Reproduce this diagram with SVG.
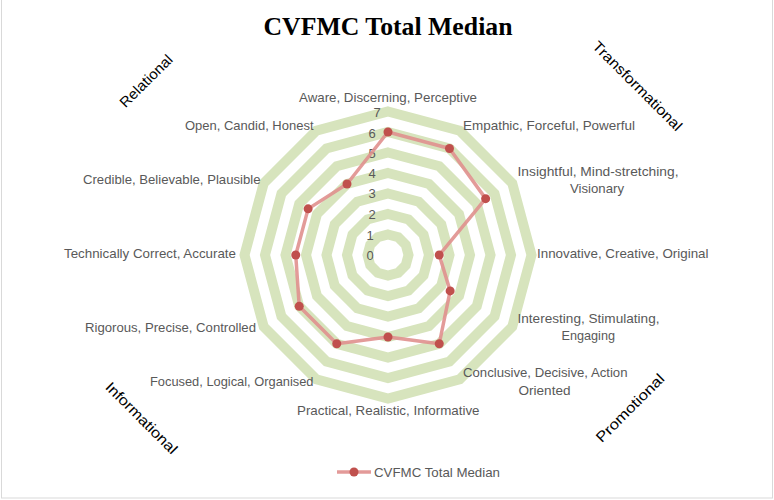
<svg xmlns="http://www.w3.org/2000/svg" width="774" height="500" viewBox="0 0 774 500">
<style>
.ring{fill:none;stroke:#D7E4BD;stroke-width:10;stroke-linejoin:miter}
.lbl{font-family:"Liberation Sans",Arial,sans-serif;font-size:12.8px;fill:#595959}
.tick{font-family:"Liberation Sans",Arial,sans-serif;font-size:13px;fill:#595959;text-anchor:middle}
.cat{font-family:"Liberation Sans",Arial,sans-serif;font-size:14.5px;fill:#000;text-anchor:middle}
.series{fill:none;stroke:#E0908E;stroke-width:3.5;stroke-linejoin:round;opacity:0.9}
.pt{fill:#C0504D}
</style>
<rect x="1.5" y="-2" width="771" height="500" fill="#FFFFFF" stroke="#D9D9D9" stroke-width="1"/>
<text x="388" y="35" font-family="'Liberation Serif','Times New Roman',serif" font-size="25" font-weight="bold" text-anchor="middle" textLength="249" lengthAdjust="spacingAndGlyphs" fill="#000">CVFMC Total Median</text>
<g id="grid">
<polygon class="ring" points="388,234.5 398.25,237.25 405.75,244.75 408.5,255 405.75,265.25 398.25,272.75 388,275.5 377.75,272.75 370.25,265.25 367.5,255 370.25,244.75 377.75,237.25"/>
<polygon class="ring" points="388,214 408.5,219.49 423.51,234.5 429,255 423.51,275.5 408.5,290.51 388,296 367.5,290.51 352.49,275.5 347,255 352.49,234.5 367.5,219.49"/>
<polygon class="ring" points="388,193.5 418.75,201.74 441.26,224.25 449.5,255 441.26,285.75 418.75,308.26 388,316.5 357.25,308.26 334.74,285.75 326.5,255 334.74,224.25 357.25,201.74"/>
<polygon class="ring" points="388,173 429,183.99 459.01,214 470,255 459.01,296 429,326.01 388,337 347,326.01 316.99,296 306,255 316.99,214 347,183.99"/>
<polygon class="ring" points="388,152.5 439.25,166.23 476.77,203.75 490.5,255 476.77,306.25 439.25,343.77 388,357.5 336.75,343.77 299.23,306.25 285.5,255 299.23,203.75 336.75,166.23"/>
<polygon class="ring" points="388,132 449.5,148.48 494.52,193.5 511,255 494.52,316.5 449.5,361.52 388,378 326.5,361.52 281.48,316.5 265,255 281.48,193.5 326.5,148.48"/>
<polygon class="ring" points="388,111.5 459.75,130.73 512.27,183.25 531.5,255 512.27,326.75 459.75,379.27 388,398.5 316.25,379.27 263.73,326.75 244.5,255 263.73,183.25 316.25,130.73"/>
</g>
<g id="ticks">
<text class="tick" x="370" y="259.5">0</text>
<text class="tick" x="370" y="239.5">1</text>
<text class="tick" x="372" y="219">2</text>
<text class="tick" x="372" y="197.5">3</text>
<text class="tick" x="372" y="177.5">4</text>
<text class="tick" x="372" y="157.5">5</text>
<text class="tick" x="372" y="137.5">6</text>
<text class="tick" x="377" y="116.5">7</text>
</g>
<g id="axis-labels">
<text class="lbl" x="299" y="101.5" textLength="178" lengthAdjust="spacingAndGlyphs">Aware, Discerning, Perceptive</text>
<text class="lbl" x="463" y="129.5" textLength="172" lengthAdjust="spacingAndGlyphs">Empathic, Forceful, Powerful</text>
<text class="lbl" x="517.5" y="175.5" textLength="161" lengthAdjust="spacingAndGlyphs">Insightful, Mind-stretching,</text>
<text class="lbl" x="570" y="193" textLength="54" lengthAdjust="spacingAndGlyphs">Visionary</text>
<text class="lbl" x="537" y="257.5" textLength="171.5" lengthAdjust="spacingAndGlyphs">Innovative, Creative, Original</text>
<text class="lbl" x="517.5" y="322.5" textLength="142" lengthAdjust="spacingAndGlyphs">Interesting, Stimulating,</text>
<text class="lbl" x="561.5" y="340" textLength="53.5" lengthAdjust="spacingAndGlyphs">Engaging</text>
<text class="lbl" x="463" y="377" textLength="164.5" lengthAdjust="spacingAndGlyphs">Conclusive, Decisive, Action</text>
<text class="lbl" x="518.5" y="394.5" textLength="52" lengthAdjust="spacingAndGlyphs">Oriented</text>
<text class="lbl" x="297" y="415" textLength="182.5" lengthAdjust="spacingAndGlyphs">Practical, Realistic, Informative</text>
<text class="lbl" x="150" y="386" textLength="163.5" lengthAdjust="spacingAndGlyphs">Focused, Logical, Organised</text>
<text class="lbl" x="85" y="332" textLength="171" lengthAdjust="spacingAndGlyphs">Rigorous, Precise, Controlled</text>
<text class="lbl" x="64" y="257.5" textLength="172" lengthAdjust="spacingAndGlyphs">Technically Correct, Accurate</text>
<text class="lbl" x="83" y="184" textLength="177.5" lengthAdjust="spacingAndGlyphs">Credible, Believable, Plausible</text>
<text class="lbl" x="185" y="129.5" textLength="128.5" lengthAdjust="spacingAndGlyphs">Open, Candid, Honest</text>
</g>
<g id="categories">
<text class="cat" transform="translate(146,81) rotate(-45)" y="5" textLength="68" lengthAdjust="spacingAndGlyphs">Relational</text>
<text class="cat" transform="translate(637.5,86) rotate(45)" y="5" textLength="120" lengthAdjust="spacingAndGlyphs">Transformational</text>
<text class="cat" transform="translate(141.5,418) rotate(45)" y="5" textLength="95" lengthAdjust="spacingAndGlyphs">Informational</text>
<text class="cat" transform="translate(630,408) rotate(-45)" y="5" textLength="90" lengthAdjust="spacingAndGlyphs">Promotional</text>
</g>
<g id="series">
<polygon class="series" points="388,132 449.5,148.48 485.64,198.63 439.25,255 450.14,290.88 439.25,343.77 388,337 336.75,343.77 299.23,306.25 295.75,255 308.11,208.87 347,183.99"/>
<circle class="pt" cx="388" cy="132" r="4.5"/>
<circle class="pt" cx="449.5" cy="148.48" r="4.5"/>
<circle class="pt" cx="485.64" cy="198.63" r="4.5"/>
<circle class="pt" cx="439.25" cy="255" r="4.5"/>
<circle class="pt" cx="450.14" cy="290.88" r="4.5"/>
<circle class="pt" cx="439.25" cy="343.77" r="4.5"/>
<circle class="pt" cx="388" cy="337" r="4.5"/>
<circle class="pt" cx="336.75" cy="343.77" r="4.5"/>
<circle class="pt" cx="299.23" cy="306.25" r="4.5"/>
<circle class="pt" cx="295.75" cy="255" r="4.5"/>
<circle class="pt" cx="308.11" cy="208.87" r="4.5"/>
<circle class="pt" cx="347" cy="183.99" r="4.5"/>
</g>
<g id="legend">
<line x1="337" y1="472" x2="371" y2="472" stroke="#E0908E" stroke-width="3.5" opacity="0.9"/>
<circle class="pt" cx="354" cy="472" r="4.5"/>
<text class="lbl" x="374" y="476.5" textLength="126" lengthAdjust="spacingAndGlyphs">CVFMC Total Median</text>
</g>
</svg>
